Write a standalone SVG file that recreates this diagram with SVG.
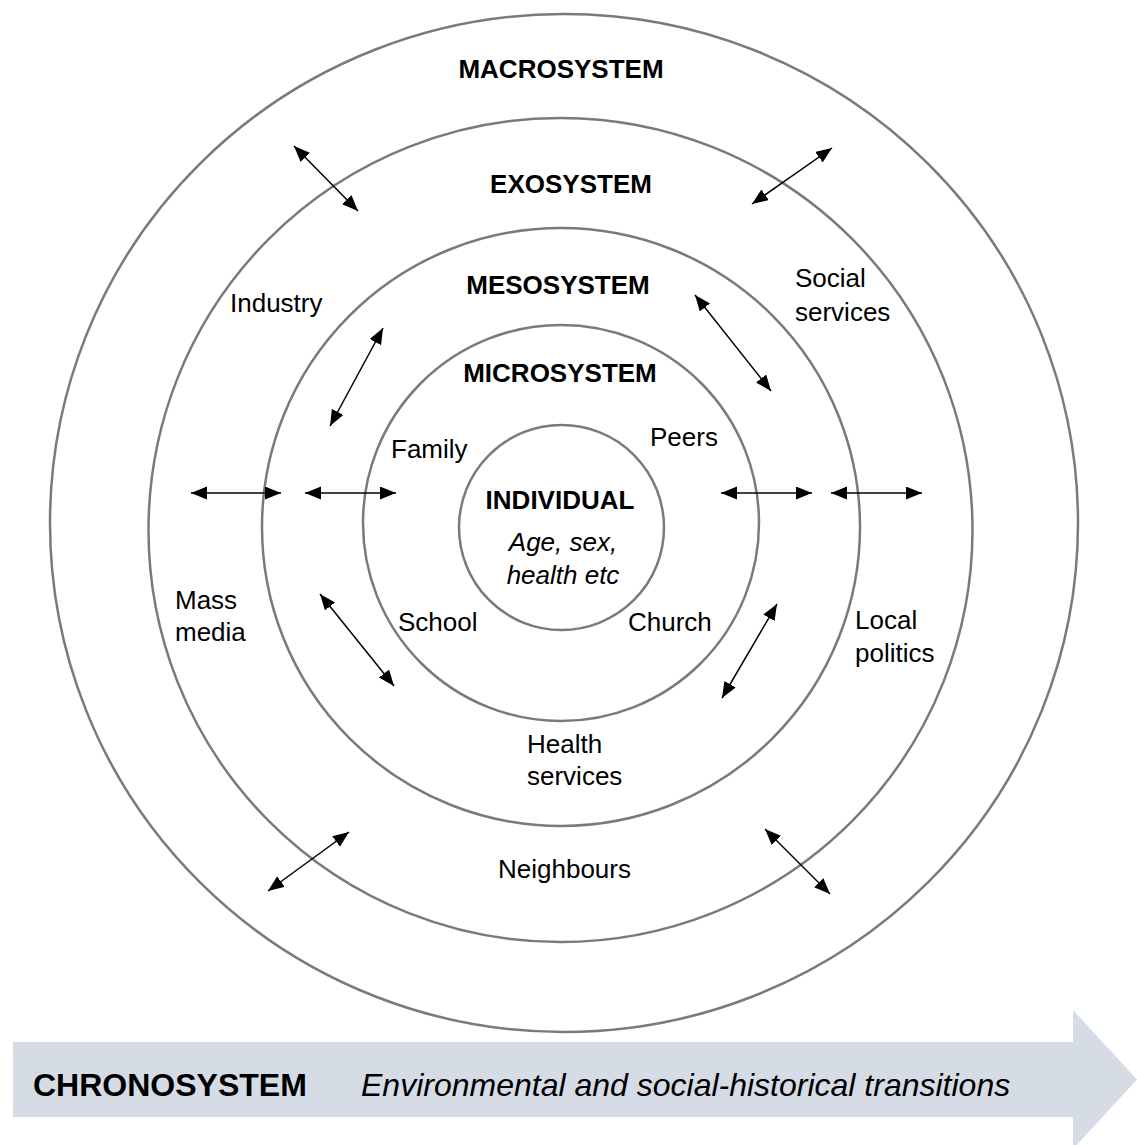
<svg xmlns="http://www.w3.org/2000/svg" width="1137" height="1145" viewBox="0 0 1137 1145">
  <style>
    .ring { fill: none; stroke: #7a7a7a; stroke-width: 2.5; }
    .title { font-family: "Liberation Sans", Arial, sans-serif; font-size: 26px; font-weight: bold; fill: #000; text-anchor: middle; }
    .label { font-family: "Liberation Sans", Arial, sans-serif; font-size: 26px; fill: #000; }
    .it { font-family: "Liberation Sans", Arial, sans-serif; font-size: 26px; font-style: italic; fill: #000; }
    .big { font-size: 32px; }
    .link { stroke: #000; stroke-width: 1.5; fill: none; marker-start: url(#head); marker-end: url(#head); }
  </style>
  <defs>
    <marker id="head" markerUnits="userSpaceOnUse" markerWidth="17" markerHeight="14" refX="16" refY="6.5" orient="auto-start-reverse">
      <path d="M0,0 L16,6.5 L0,13 z" fill="#000"/>
    </marker>
  </defs>
  <rect width="1137" height="1145" fill="#fff"/>

  <!-- chronosystem band -->
  <g id="chronosystem">
    <path d="M13,1042 H1073 V1010 L1137,1079.5 L1073,1149 V1117 H13 Z" fill="#d5dce5"/>
    <text class="title big" x="33" y="1096" style="text-anchor:start">CHRONOSYSTEM</text>
    <text class="it big" x="361" y="1096">Environmental and social-historical transitions</text>
  </g>

  <!-- nested system rings -->
  <g id="macrosystem">
    <ellipse class="ring" cx="564" cy="523" rx="514" ry="509"/>
    <text class="title" x="561" y="78">MACROSYSTEM</text>
  </g>
  <g id="exosystem">
    <circle class="ring" cx="560.5" cy="530" r="412"/>
    <text class="title" x="571" y="193">EXOSYSTEM</text>
    <text class="label" x="230" y="312">Industry</text>
    <text class="label" x="795" y="287">Social</text>
    <text class="label" x="795" y="321">services</text>
    <text class="label" x="175" y="609">Mass</text>
    <text class="label" x="175" y="641">media</text>
    <text class="label" x="855" y="629">Local</text>
    <text class="label" x="855" y="662">politics</text>
    <text class="label" x="498" y="878">Neighbours</text>
  </g>
  <g id="mesosystem">
    <circle class="ring" cx="561" cy="527" r="299"/>
    <text class="title" x="558" y="294">MESOSYSTEM</text>
    <text class="label" x="527" y="753">Health</text>
    <text class="label" x="527" y="785">services</text>
  </g>
  <g id="microsystem">
    <circle class="ring" cx="561" cy="523" r="198"/>
    <text class="title" x="560" y="382">MICROSYSTEM</text>
    <text class="label" x="391" y="458">Family</text>
    <text class="label" x="650" y="446">Peers</text>
    <text class="label" x="398" y="631">School</text>
    <text class="label" x="628" y="631">Church</text>
  </g>
  <g id="individual">
    <circle class="ring" cx="561.5" cy="527.5" r="102.5"/>
    <text class="title" x="560" y="509">INDIVIDUAL</text>
    <text class="it" x="563" y="551" text-anchor="middle">Age, sex,</text>
    <text class="it" x="563" y="584" text-anchor="middle">health etc</text>
  </g>

  <!-- two-way influences between rings -->
  <g id="connectors">
    <line class="link" x1="294" y1="146" x2="358" y2="211"/>
    <line class="link" x1="832" y1="148" x2="752" y2="204"/>
    <line class="link" x1="191" y1="493" x2="281" y2="493"/>
    <line class="link" x1="305" y1="493" x2="396" y2="493"/>
    <line class="link" x1="721" y1="493" x2="812" y2="493"/>
    <line class="link" x1="831" y1="493" x2="922" y2="493"/>
    <line class="link" x1="383" y1="328" x2="330" y2="426"/>
    <line class="link" x1="695" y1="295" x2="771" y2="391"/>
    <line class="link" x1="320" y1="594" x2="394" y2="686"/>
    <line class="link" x1="777" y1="604" x2="722" y2="698"/>
    <line class="link" x1="349" y1="832" x2="268" y2="891"/>
    <line class="link" x1="765" y1="829" x2="830" y2="894"/>
  </g>
</svg>
